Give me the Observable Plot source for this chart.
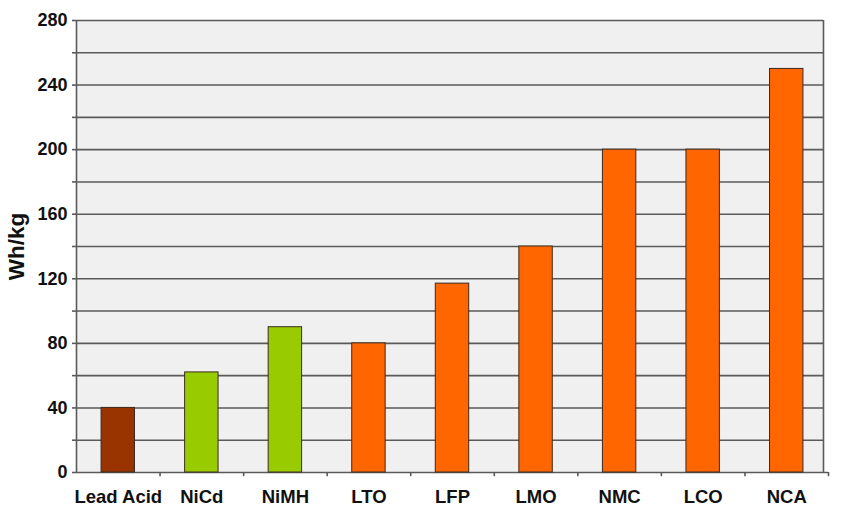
<!DOCTYPE html>
<html>
<head>
<meta charset="utf-8">
<script src="https://cdn.jsdelivr.net/npm/d3@7"></script>
<script src="https://cdn.jsdelivr.net/npm/@observablehq/plot@0.6"></script>
<style>
  body { margin: 0; background: #fff; }
  svg { font-family: "Liberation Sans", Arial, sans-serif; }
</style>
</head>
<body>
<div id="chart"></div>
<script>
const categories = ["Lead Acid", "NiCd", "NiMH", "LTO", "LFP", "LMO", "NMC", "LCO", "NCA"];
const values = [40, 62, 90, 80, 117, 140, 200, 200, 250];
const groups = ["lead", "nickel", "nickel", "lithium", "lithium", "lithium", "lithium", "lithium", "lithium"];
const yTicks = [0, 20, 40, 60, 80, 100, 120, 140, 160, 180, 200, 220, 240, 260, 280];
const yLabelTicks = [0, 40, 80, 120, 160, 200, 240, 280];

const data = categories.map((c, i) => ({category: c, value: values[i], group: groups[i]}));

const width = 847, height = 515;
const marginLeft = 76, marginRight = 19, marginTop = 20, marginBottom = 43;
const step = (width - marginLeft - marginRight) / categories.length;
const rightInset = 5;
const gridColor = "#5a5a5a";

const chart = Plot.plot({
  width, height,
  marginLeft, marginRight, marginTop, marginBottom,
  style: {fontFamily: "'Liberation Sans', Arial, sans-serif", background: "#fff"},
  x: {domain: categories, paddingInner: 0.6, paddingOuter: 0.3, round: false, label: null},
  y: {domain: [0, 280], label: null},
  color: {domain: ["lead", "nickel", "lithium"], range: ["#993300", "#99cc00", "#ff6600"]},
  marks: [
    Plot.frame({fill: "#f0f0f0", stroke: null, insetRight: rightInset}),
    Plot.ruleY(yTicks.slice(1), {stroke: gridColor, strokeWidth: 1.6, insetRight: rightInset}),
    Plot.ruleY([0], {stroke: gridColor, strokeWidth: 1.6}),
    Plot.ruleX([categories[0]], {dx: -step / 2, stroke: gridColor, strokeWidth: 1.6, y1: 0, y2: 280}),
    Plot.ruleX([categories[categories.length - 1]], {dx: step / 2 - rightInset, stroke: gridColor, strokeWidth: 1.6, y1: 0, y2: 280}),
    Plot.ruleX(categories.slice(1), {dx: -step / 2, stroke: gridColor, strokeWidth: 1.6, y1: 0, y2: -2.6}),
    Plot.ruleX([categories[categories.length - 1]], {dx: step / 2, stroke: gridColor, strokeWidth: 1.6, y1: 0, y2: -2.6}),
    Plot.barY(data, {x: "category", y: "value", fill: "group", stroke: "#3a2a20", strokeWidth: 1}),
    Plot.axisY({
      ticks: yTicks, tickSize: 4, tickPadding: 5, stroke: gridColor, strokeWidth: 1.6,
      tickFormat: d => yLabelTicks.includes(d) ? String(d) : "",
      fontSize: 18, fontWeight: "bold", fill: "#111", label: null
    }),
    Plot.axisX({tickSize: 0, tickPadding: 17, fontSize: 18.5, fontWeight: "bold", fill: "#111", label: null}),
    Plot.text(["Wh/kg"], {
      frameAnchor: "left", textAnchor: "middle", dx: -60, rotate: -90,
      fontSize: 22.5, fontWeight: "bold", fill: "#111", text: d => d
    })
  ]
});
document.getElementById("chart").appendChild(chart);
</script>
</body>
</html>
